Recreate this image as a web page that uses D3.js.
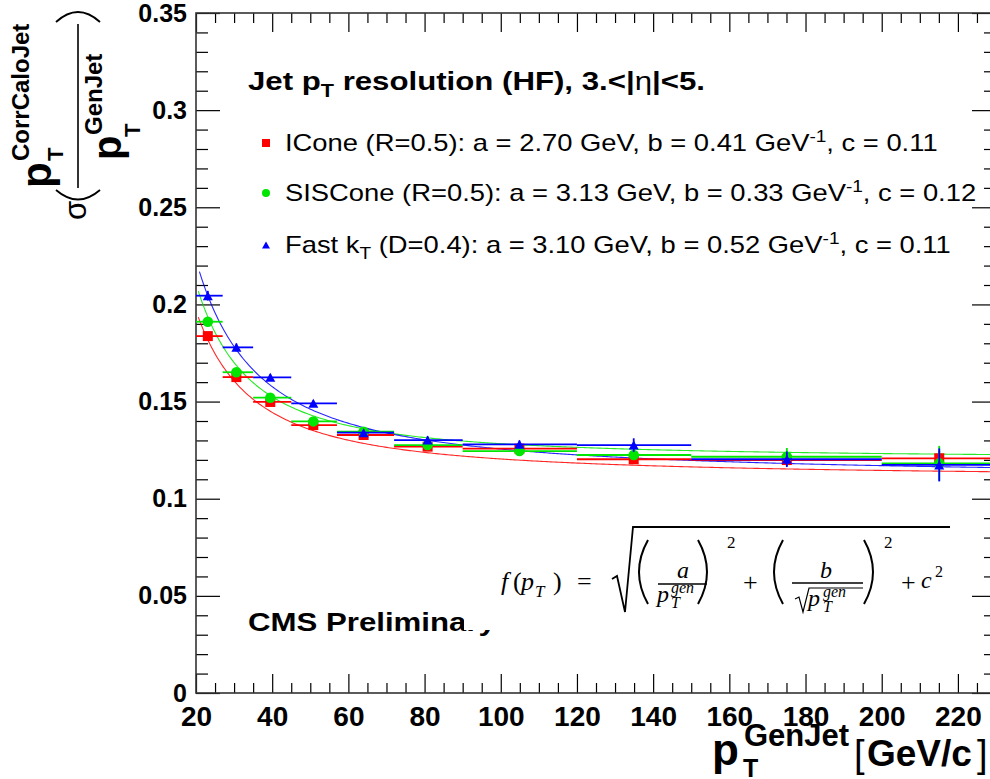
<!DOCTYPE html>
<html><head><meta charset="utf-8">
<script src="https://cdn.jsdelivr.net/npm/d3@7"></script>
<style>
body{margin:0;background:#fff}
svg{display:block}
text{font-family:"Liberation Sans",Arial,Helvetica,sans-serif;fill:#000}
.math{font-family:"Liberation Serif","Times New Roman",serif}
</style></head><body>
<svg id="c" width="990" height="779"></svg>
<script>
// Generator-level jet pT bins and mean pT inside each bin
const binEdges = [20, 27, 35, 45, 57, 72, 90, 120, 150, 200, 250];
const meanPt   = [23.1, 30.6, 39.5, 50.8, 64.0, 80.8, 104.9, 134.9, 175.1, 215.1];

// Resolution sigma(pT reco / pT gen) per bin, with statistical errors
const iconeRes    = [0.1837, 0.1626, 0.1498, 0.1379, 0.1328, 0.1268, 0.1258, 0.1203, 0.1199, 0.1208];
const iconeErr    = [0.002, 0.0015, 0.0015, 0.0015, 0.0015, 0.0015, 0.002, 0.002, 0.003, 0.004];
const sisconeRes  = [0.1911, 0.1651, 0.1520, 0.1398, 0.1345, 0.1276, 0.1245, 0.1225, 0.1216, 0.1182];
const sisconeErr  = [0.002, 0.0015, 0.0015, 0.0015, 0.0015, 0.0015, 0.002, 0.0025, 0.0045, 0.009];
const fastktRes   = [0.2045, 0.1779, 0.1625, 0.1491, 0.1340, 0.1302, 0.1280, 0.1276, 0.1203, 0.1174];
const fastktErr   = [0.0025, 0.002, 0.0015, 0.0015, 0.0015, 0.002, 0.002, 0.0035, 0.004, 0.0085];

// Fit parameters of f(pT) = sqrt((a/pT)^2 + (b/sqrt(pT))^2 + c^2)
const algoNames = ["ICone (R=0.5)", "SISCone (R=0.5)", "Fast k"];
const fitA = [2.70, 3.13, 3.10];
const fitB = [0.41, 0.33, 0.52];
const fitC = [0.11, 0.12, 0.11];
const fitStart = [20.6, 20.6, 20.9];

// Axis ticks
const xTicks = [20, 40, 60, 80, 100, 120, 140, 160, 180, 200, 220];
const xTickLabels = ["20", "40", "60", "80", "100", "120", "140", "160", "180", "200", "220"];
const yTicks = [0, 0.05, 0.1, 0.15, 0.2, 0.25, 0.3, 0.35];
const yTickLabels = ["0", "0.05", "0.1", "0.15", "0.2", "0.25", "0.3", "0.35"];

const colors = ["#ff0000", "#00e600", "#0000ff"];

const svg = d3.select("#c");
const X0 = 196, X1 = 996, Y0 = 693, Y1 = 13;
const x = d3.scaleLinear().domain([20, 230]).range([X0, X1]);
const y = d3.scaleLinear().domain([0, 0.35]).range([Y0, Y1]);

// ---------- axes (ROOT style: ticks point inward, mirrored on top/right)
const xMinor = d3.range(20, 231, 5).filter(v => v % 20 !== 0);
const yMinor = d3.range(0, 0.3501, 0.01).filter(v => Math.abs(v / 0.05 - Math.round(v / 0.05)) > 1e-6);

function styleAxis(g) {
  g.select(".domain").remove();
  g.selectAll(".tick line").attr("stroke", "#000").attr("stroke-width", 1.2);
}
svg.append("g").attr("transform", `translate(0,${Y0})`)
  .call(d3.axisBottom(x).tickValues(xTicks).tickSize(-19).tickPadding(13)
    .tickFormat((d, i) => xTickLabels[i]))
  .call(styleAxis)
  .selectAll("text").attr("font-size", 28).attr("font-weight", "bold")
  .attr("font-family", "'Liberation Sans',Arial,sans-serif");
svg.append("g").attr("transform", `translate(0,${Y0})`)
  .call(d3.axisBottom(x).tickValues(xMinor).tickSize(-10).tickFormat("")).call(styleAxis);
svg.append("g").attr("transform", `translate(0,${Y1})`)
  .call(d3.axisTop(x).tickValues(xTicks).tickSize(-19).tickFormat("")).call(styleAxis);
svg.append("g").attr("transform", `translate(0,${Y1})`)
  .call(d3.axisTop(x).tickValues(xMinor).tickSize(-10).tickFormat("")).call(styleAxis);

svg.append("g").attr("transform", `translate(${X0},0)`)
  .call(d3.axisLeft(y).tickValues(yTicks).tickSize(-24).tickPadding(9)
    .tickFormat((d, i) => yTickLabels[i]))
  .call(styleAxis)
  .selectAll("text").attr("font-size", 25).attr("font-weight", "bold")
  .attr("font-family", "'Liberation Sans',Arial,sans-serif");
svg.append("g").attr("transform", `translate(${X0},0)`)
  .call(d3.axisLeft(y).tickValues(yMinor).tickSize(-12).tickFormat("")).call(styleAxis);
svg.append("g").attr("transform", `translate(${X1},0)`)
  .call(d3.axisRight(y).tickValues(yTicks).tickSize(-24).tickFormat("")).call(styleAxis);
svg.append("g").attr("transform", `translate(${X1},0)`)
  .call(d3.axisRight(y).tickValues(yMinor).tickSize(-12).tickFormat("")).call(styleAxis);

// frame
svg.append("rect").attr("x", X0).attr("y", Y1).attr("width", X1 - X0).attr("height", Y0 - Y1)
  .attr("fill", "none").attr("stroke", "#333").attr("stroke-width", 1.6);

// ---------- data
svg.append("clipPath").attr("id", "plotclip").append("rect")
  .attr("x", X0).attr("y", Y1).attr("width", X1 - X0).attr("height", Y0 - Y1);
const plot = svg.append("g").attr("clip-path", "url(#plotclip)");

const series = [
  {res: iconeRes, err: iconeErr, shape: "square"},
  {res: sisconeRes, err: sisconeErr, shape: "circle"},
  {res: fastktRes, err: fastktErr, shape: "triangle"}
];

function marker(g, shape, cx, cy, s, col) {
  if (shape === "square") {
    g.append("rect").attr("x", cx - s / 2).attr("y", cy - s / 2).attr("width", s).attr("height", s).attr("fill", col);
  } else if (shape === "circle") {
    g.append("circle").attr("cx", cx).attr("cy", cy).attr("r", s / 2).attr("fill", col);
  } else {
    const h = s * 0.9;
    g.append("path").attr("d", `M${cx - s / 2},${cy + h / 2}L${cx + s / 2},${cy + h / 2}L${cx},${cy - h / 2}Z`).attr("fill", col);
  }
}

// fitted curves
series.forEach((s, k) => {
  const pts = d3.range(fitStart[k], 230.01, 0.5).map(pt => [pt,
    Math.sqrt(Math.pow(fitA[k] / pt, 2) + Math.pow(fitB[k], 2) / pt + Math.pow(fitC[k], 2))]);
  plot.append("path").datum(pts)
    .attr("d", d3.line().x(d => x(d[0])).y(d => y(d[1])))
    .attr("fill", "none").attr("stroke", colors[k]).attr("stroke-width", 1.1).attr("opacity", 0.85);
});

// points with bin-width bars and vertical errors
series.forEach((s, k) => {
  const g = plot.append("g");
  s.res.forEach((v, i) => {
    g.append("line").attr("x1", x(binEdges[i])).attr("x2", x(binEdges[i + 1]))
      .attr("y1", y(v)).attr("y2", y(v)).attr("stroke", colors[k]).attr("stroke-width", 1.8);
    g.append("line").attr("x1", x(meanPt[i])).attr("x2", x(meanPt[i]))
      .attr("y1", y(v - s.err[i])).attr("y2", y(v + s.err[i])).attr("stroke", colors[k]).attr("stroke-width", 1.8);
    marker(g, s.shape, x(meanPt[i]), y(v), s.shape === "circle" ? 10.5 : 10, colors[k]);
  });
});

// ---------- header and legend (text drawn slightly widened, as in the ROOT canvas)
const title = svg.append("g").attr("transform", "translate(248,90) scale(1.2,1)")
  .append("text").attr("x", 0).attr("y", 0).attr("font-size", 26).attr("font-weight", "bold");
title.append("tspan").text("Jet p");
title.append("tspan").attr("dy", 7).attr("font-size", 18).text("T");
title.append("tspan").attr("dy", -7).text(" resolution (HF), 3.<|");
title.append("tspan").attr("font-weight", "normal").text("η");
title.append("tspan").text("|<5.");

const legY = [143, 193, 245];
series.forEach((s, k) => {
  marker(svg, s.shape, 266, legY[k], 8, colors[k]);
  const t = svg.append("g").attr("transform", `translate(285,${legY[k] + 8}) scale(1.19,1)`)
    .append("text").attr("x", 0).attr("y", 0).attr("font-size", 23);
  t.append("tspan").text(algoNames[k]);
  if (k === 2) {
    t.append("tspan").attr("dy", 6).attr("font-size", 16).text("T");
    t.append("tspan").attr("dy", -6).text(" (D=0.4)");
  }
  t.append("tspan").text(`: a = ${fitA[k].toFixed(2)} GeV, b = ${fitB[k].toFixed(2)} GeV`);
  t.append("tspan").attr("dy", -9).attr("font-size", 16).text("-1");
  t.append("tspan").attr("dy", 9).text(`, c = ${fitC[k].toFixed(2)}`);
});

svg.append("g").attr("transform", "translate(248,631) scale(1.2,1)")
  .append("text").attr("font-size", 26).attr("font-weight", "bold").text("CMS Preliminary");

// ---------- formula panel (opaque, sits over the lower-left label)
const fm = svg.append("g");
fm.append("rect").attr("x", 464).attr("y", 505).attr("width", 496).attr("height", 125).attr("fill", "#fff");
function mt(txt, xx, yy, size, italic) {
  return fm.append("text").attr("class", "math").attr("x", xx).attr("y", yy)
    .attr("font-size", size).attr("font-style", italic ? "italic" : "normal").text(txt);
}
function mp(d, w) {
  return fm.append("path").attr("d", d).attr("fill", "none").attr("stroke", "#000").attr("stroke-width", w || 1.6);
}
mt("f", 501, 590, 26, true);
mt("(", 513, 590, 26, false);
mt("p", 521, 590, 26, true);
mt("T", 535, 597, 17, true);
mt(")", 553, 590, 26, false);
mt("=", 577, 590, 26, false);
mp("M612,579 L617,576 L625,612 L633,527 L950,527", 1.8);
mp("M648,540 Q630,572 648,604", 2);
mt("a", 677, 578, 24, true);
mp("M658,584 L707,584", 1.4);
mt("p", 657, 602, 24, true);
mt("gen", 671, 593, 16, true);
mt("T", 671, 608, 16, true);
mp("M698,540 Q716,572 698,604", 2);
mt("2", 727, 548, 17, false);
mt("+", 743, 591, 26, false);
mp("M783,540 Q765,572 783,604", 2);
mt("b", 820, 578, 24, true);
mp("M792,583 L863,583", 1.4);
mp("M795,599 L799,597 L803,612 L809,588 L863,588", 1.2);
mt("p", 808, 606, 24, true);
mt("gen", 823, 597, 16, true);
mt("T", 823, 612, 16, true);
mp("M864,540 Q882,572 864,604", 2);
mt("2", 884, 548, 17, false);
mt("+", 901, 591, 26, false);
mt("c", 921, 588, 24, true);
mt("2", 935, 577, 16, false);

// ---------- axis titles
const xt = svg.append("g");
xt.append("text").attr("x", 712).attr("y", 765).attr("font-size", 44).attr("font-weight", "bold").text("p");
xt.append("text").attr("x", 744).attr("y", 746).attr("font-size", 31).attr("font-weight", "bold").text("GenJet");
xt.append("text").attr("x", 743).attr("y", 777).attr("font-size", 25).attr("font-weight", "bold").text("T");
xt.append("text").attr("x", 854).attr("y", 767).attr("font-size", 38).text("[");
xt.append("text").attr("x", 867).attr("y", 766).attr("font-size", 37).attr("font-weight", "bold").text("GeV/c");
xt.append("text").attr("x", 977).attr("y", 767).attr("font-size", 38).text("]");

// y title drawn in a frame rotated by -90 degrees: (u, v) -> screen (v, -u)
const yt = svg.append("g").attr("transform", "rotate(-90)");
function rt(txt, sy, sx, size, bold) {
  return yt.append("text").attr("x", -sy).attr("y", sx).attr("font-size", size)
    .attr("font-weight", bold ? "bold" : "normal").text(txt);
}
rt("σ", 220, 86, 31, false);
rt("p", 188, 51, 42, true);
rt("CorrCaloJet", 161, 29, 24, true);
rt("T", 161, 63, 22, true);
rt("p", 160, 121, 40, true);
rt("GenJet", 135, 102, 24, true);
rt("T", 137, 140, 22, true);
svg.append("path").attr("d", "M78,24 L78,188").attr("stroke", "#000").attr("stroke-width", 1.6);
svg.append("path").attr("d", "M56,190 Q78,209 100,190").attr("fill", "none").attr("stroke", "#000").attr("stroke-width", 1.8);
svg.append("path").attr("d", "M56,22 Q78,2 100,22").attr("fill", "none").attr("stroke", "#000").attr("stroke-width", 1.8);
</script>
</body></html>
